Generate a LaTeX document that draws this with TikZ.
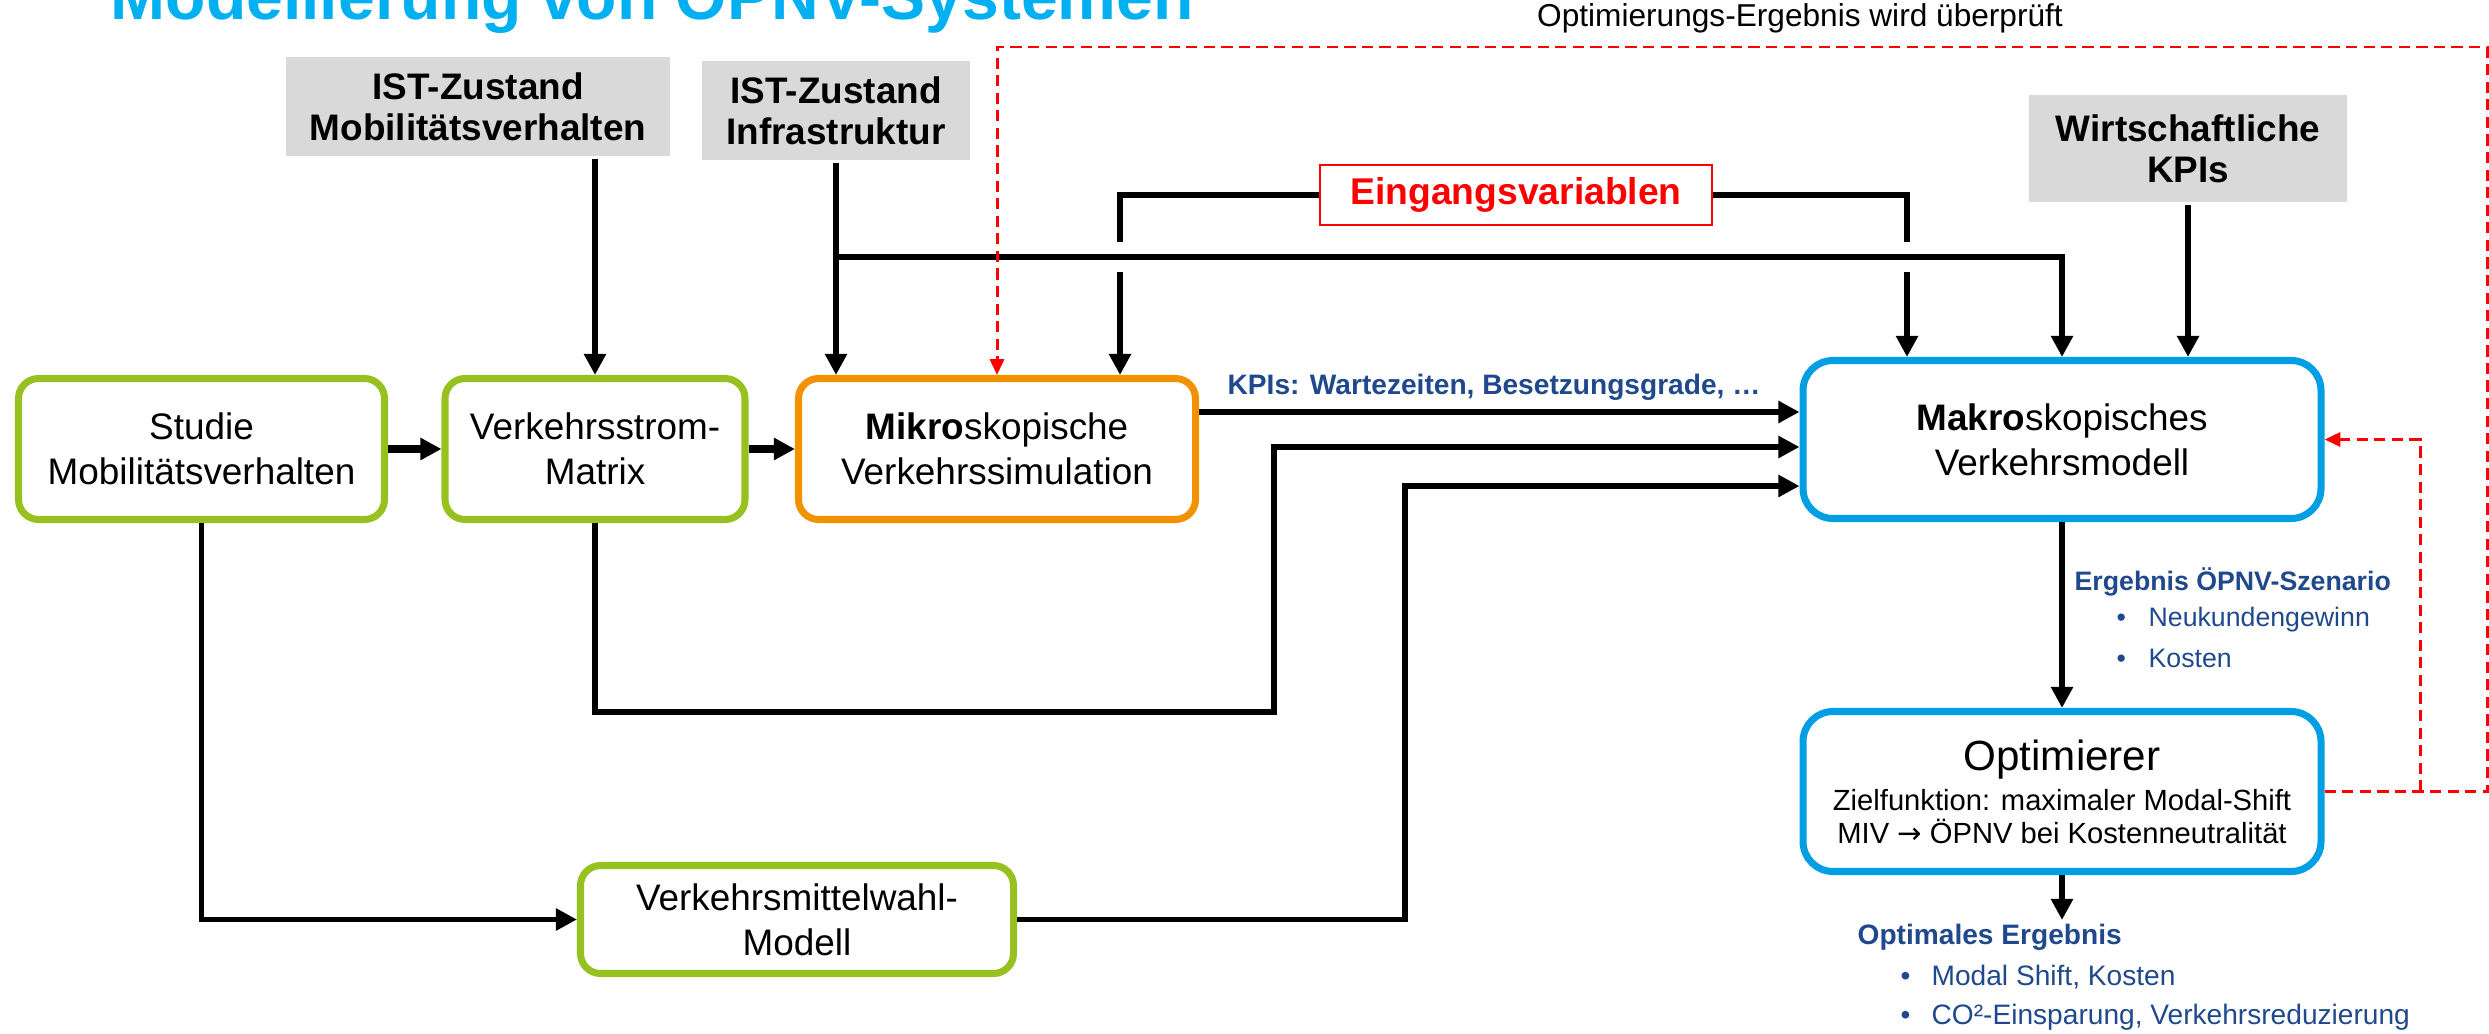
\documentclass[tikz,border=0pt]{standalone}
\usepackage{fontspec}
\setmainfont{Liberation Sans}
\newfontfamily\pfeil{DejaVu Sans}
\usetikzlibrary{arrows.meta,positioning}
\definecolor{titelblau}{RGB}{0,176,240}
\definecolor{kastenblau}{RGB}{0,159,227}
\definecolor{kastengruen}{RGB}{151,193,31}
\definecolor{kastenorange}{RGB}{243,146,0}
\definecolor{istgrau}{RGB}{217,217,217}
\definecolor{textblau}{RGB}{31,73,140}
\begin{document}
\begin{tikzpicture}[>={Triangle[length=6pt,width=6pt]},line width=1.5pt,
		kasten/.style={draw,rounded corners=0.2cm,line width=2pt,fill=white,align=center,inner sep=0pt,font=\fontsize{10.5}{12.8}\selectfont},
		ist/.style={fill=istgrau,align=center,inner sep=0pt,font=\bfseries\fontsize{10.5}{11.6}\selectfont},
		blau/.style={text=textblau,anchor=west,inner sep=0pt},
		rueck/.style={draw=red,line width=0.85pt,dash pattern=on 3.2pt off 1.8pt,-{Triangle[length=4.5pt,width=4pt]}}]
	\useasboundingbox (0,0) rectangle (24.89,-10.34);
	\path (0,-4.12) coordinate (y1) (0,-4.47) coordinate (y2) (0,-4.86) coordinate (y3)
	(8.36,-2.57) coordinate (J)
	(11.2,-1.95) coordinate (EL) (19.07,-1.95) coordinate (ER)
	(12.74,-7.12) coordinate (M) (14.05,0) coordinate (W)
	(24.2,0) coordinate (R) (24.87,-0.47) coordinate (Q)
	(20.62,-9.2) coordinate (ziel);
	\node[anchor=base west,inner sep=0pt,text=titelblau,font=\bfseries\fontsize{18.8}{22}\selectfont] (titel) at (1.08,-0.2) {Modellierung von ÖPNV-Systemen};
	\node[inner sep=0pt,font=\fontsize{9}{11}\selectfont] (pruef) at (18.0,-0.18) {Optimierungs-Ergebnis wird überprüft};
	\node[ist,minimum width=3.84cm,minimum height=0.99cm] (istmob) at (4.78,-1.065) {IST-Zustand\\Mobilitätsverhalten};
	\node[ist,minimum width=2.68cm,minimum height=0.99cm] (istinf) at (8.36,-1.105) {IST-Zustand\\Infrastruktur};
	\node[ist,minimum width=3.18cm,minimum height=1.07cm] (istwirt) at (21.88,-1.485) {Wirtschaftliche\\KPIs};
	\node[draw=red,line width=0.6pt,fill=white,text=red,inner sep=0pt,minimum width=3.92cm,minimum height=0.6cm,font=\bfseries\fontsize{10.6}{12}\selectfont] (eing) at (15.16,-1.95) {Eingangsvariablen};
	\node[kasten,draw=kastengruen,minimum width=3.66cm,minimum height=1.41cm] (studie) at (2.015,-4.49) {Studie\\Mobilitätsverhalten};
	\node[kasten,draw=kastengruen,minimum width=3.0cm,minimum height=1.41cm] (matrix) at (5.95,-4.49) {Verkehrsstrom-\\Matrix};
	\node[kasten,draw=kastenorange,minimum width=3.97cm,minimum height=1.41cm] (mikro) at (9.97,-4.49) {\textbf{Mikro}skopische\\Verkehrssimulation};
	\node[kasten,draw=kastenblau,rounded corners=0.3cm,minimum width=5.18cm,minimum height=1.58cm] (makro) at (20.62,-4.395) {\textbf{Makro}skopisches\\Verkehrsmodell};
	\node[kasten,draw=kastenblau,rounded corners=0.3cm,minimum width=5.18cm,minimum height=1.6cm,font=\fontsize{8.3}{9.4}\selectfont] (opti) at (20.62,-7.915) {{\fontsize{12}{14}\selectfont Optimierer}\\[2pt]Zielfunktion: maximaler Modal-Shift\\MIV {\pfeil →} ÖPNV bei Kostenneutralität};
	\node[kasten,draw=kastengruen,minimum width=4.33cm,minimum height=1.08cm] (wahl) at (7.97,-9.195) {Verkehrsmittelwahl-\\Modell};
	\draw[->,line width=2.2pt] (studie) -- (matrix);
	\draw[->,line width=2.2pt] (matrix) -- (mikro);
	\draw[->] (istmob.south -| matrix.north) -- (matrix.north);
	\draw[->] (eing.west) -| (EL |- mikro.north);
	\draw[->] (eing.east) -| (ER |- makro.north);
	\draw[white,line width=8.5pt] (J) -- (J -| makro.north);
	\draw[->] (istinf.south) -- (istinf.south |- mikro.north);
	\draw[->] (J) -| (makro.north);
	\draw[->] (istwirt.south) -- (istwirt.south |- makro.north);
	\draw[->] (mikro.east |- y1) -- (makro.west |- y1);
	\node[blau,font=\bfseries\fontsize{8}{9.6}\selectfont] (kpi) at (12.25,-3.87) {KPIs: Wartezeiten, Besetzungsgrade, …};
	\draw[->] (matrix.south) |- (M) |- (makro.west |- y2);
	\draw[->] (studie.south) |- (wahl.west);
	\draw[->] (wahl.east) -| (W |- y3) -- (makro.west |- y3);
	\draw[->] (makro) -- (opti);
	\draw[->] (opti.south) -- (ziel);
	\draw[rueck] (opti.east) -| (Q) -| (mikro.north);
	\draw[rueck] (opti.east -| R) |- (makro.east);
	\node[blau,font=\bfseries\fontsize{7.6}{9}\selectfont] (erg) at (20.72,-5.82) {Ergebnis ÖPNV-Szenario};
	\foreach \t [count=\i] in {Neukundengewinn,Kosten}
		\node[blau,font=\fontsize{7.6}{9}\selectfont] (erg\i) at (21.14,{-5.82-0.38*\i}) {\makebox[0.32cm][l]{•}\t};
	\node[blau,font=\bfseries\fontsize{8}{9.6}\selectfont] (opt) at (18.55,-9.37) {Optimales Ergebnis};
	\foreach \t [count=\i] in {{Modal Shift, Kosten},{CO²-Einsparung, Verkehrsreduzierung}}
		\node[blau,font=\fontsize{8}{9.6}\selectfont] (opt\i) at (18.98,{-9.37-0.4*\i}) {\makebox[0.31cm][l]{•}\t};
\end{tikzpicture}
\end{document}
